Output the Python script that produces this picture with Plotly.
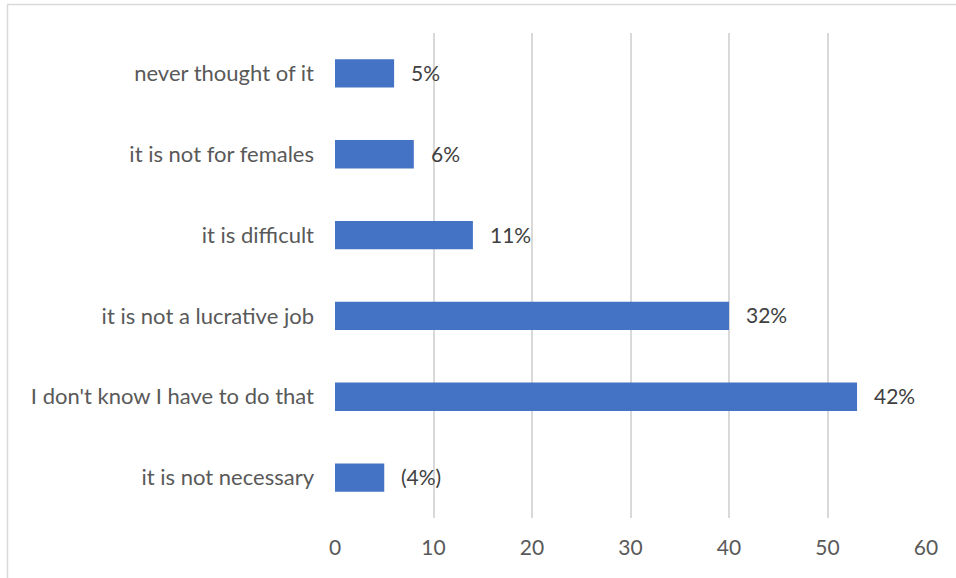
import plotly.graph_objects as go

# Reasons given, top to bottom
reasons = [
    "never thought of it",
    "it is not for females",
    "it is difficult",
    "it is not a lucrative job",
    "I don't know I have to do that",
    "it is not necessary",
]
counts = [6, 8, 14, 40, 53, 5]
share_labels = ["5%", "6%", "11%", "32%", "42%", "(4%)"]
x_ticks = [0, 10, 20, 30, 40, 50, 60]

FONT = "Lato"
GREY = "#595959"

fig = go.Figure(
    go.Bar(
        x=counts,
        y=reasons,
        orientation="h",
        marker=dict(color="#4472C4", line=dict(width=0)),
        width=0.35,
        hoverinfo="skip",
    )
)

# Share labels to the right of each bar
for r, c, lab in zip(reasons, counts, share_labels):
    fig.add_annotation(
        x=c, y=r, text=lab, showarrow=False,
        xanchor="left", yanchor="middle", xshift=15, yshift=1,
        font=dict(family=FONT, size=21, color="#404040"),
    )

# Light frame around the chart
fig.add_shape(
    type="rect", xref="paper", yref="paper",
    x0=(7.5 - 335) / 591, x1=2, y0=-1, y1=1 + (33 - 4.5) / 485,
    line=dict(color="#D9D9D9", width=1.5), fillcolor="rgba(0,0,0,0)",
    layer="below",
)

fig.update_layout(
    width=956, height=578,
    margin=dict(l=335, r=30, t=33, b=60),
    paper_bgcolor="white", plot_bgcolor="white",
    showlegend=False,
    font=dict(family=FONT, color=GREY),
    xaxis=dict(
        range=[0, 60], tickvals=x_ticks, showgrid=True,
        gridcolor="#D9D9D9", gridwidth=1.5, zeroline=False,
        showline=False, ticks="", tickfont=dict(size=21, color=GREY),
        ticklabelstandoff=15, fixedrange=True,
    ),
    yaxis=dict(
        autorange="reversed", showgrid=False, zeroline=False,
        showline=False, ticks="", tickfont=dict(size=22, color=GREY),
        ticklabelstandoff=20, fixedrange=True,
    ),
)

fig.write_html("out.html")
